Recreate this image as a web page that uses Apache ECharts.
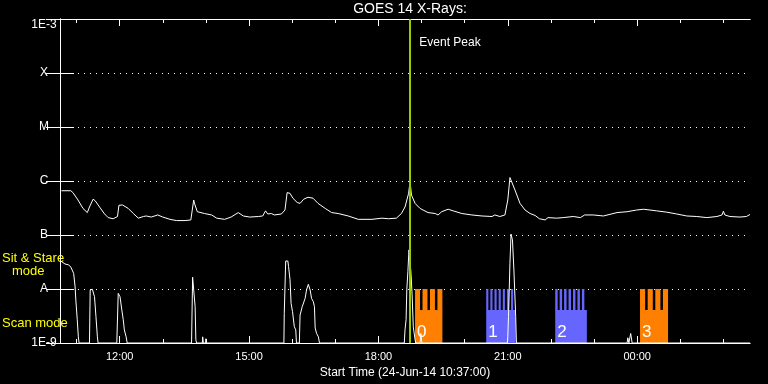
<!DOCTYPE html>
<html>
<head>
<meta charset="utf-8">
<script src="https://cdn.jsdelivr.net/npm/echarts@6/dist/echarts.min.js"></script>
<style>
  html, body { margin: 0; padding: 0; background: #000; }
  #main { width: 768px; height: 384px; }
</style>
</head>
<body>
<div id="main"></div>
<script>
// start of the plot, 24-Jun-14 10:37:00 ; times are minutes after it
var START_MIN = 10 * 60 + 37;
var SPAN_MIN = 960;

// x tick labels
var tickLabels = ['12:00', '15:00', '18:00', '21:00', '00:00'];
// y tick labels, 1E-9 .. 1E-3
var levelLabels = ['1E-9', 'A', 'B', 'C', 'M', 'X', '1E-3'];

// GOES 14 long channel (1-8 A), W/m^2
var longTime = [2, 15, 18, 25, 32, 38, 41, 46, 49, 55, 62, 67, 74, 80, 82, 87, 95, 102, 109, 116,
  120, 127, 136, 143, 153, 162, 174, 182, 184, 186, 187, 191, 201, 211, 218, 229, 238, 248, 255, 264,
  276, 282, 286, 289, 294, 298, 308, 313, 316, 320, 324, 330, 334, 339, 345, 352, 359, 369, 378, 387,
  401, 415, 434, 448, 457, 468, 475, 480, 485, 487, 489, 494, 501, 512, 522, 526, 531, 540, 547, 559,
  573, 587, 601, 605, 612, 619, 623, 626, 628, 633, 640, 647, 654, 661, 667, 675, 679, 691, 700, 714,
  724, 730, 742, 756, 775, 789, 802, 812, 830, 844, 858, 872, 886, 900, 914, 921, 923, 925, 932, 946,
  955, 960];
var longFlux = [6.6e-7, 6.6e-7, 6.1e-7, 4.45e-7, 3.1e-7, 2.6e-7, 3.3e-7, 4.6e-7, 4.3e-7, 3.3e-7, 2.45e-7, 2.1e-7, 2.0e-7, 2.2e-7, 3.55e-7, 3.6e-7, 3.1e-7, 2.5e-7, 2.05e-7, 2.2e-7,
  2.25e-7, 2.15e-7, 2.35e-7, 2.15e-7, 1.95e-7, 1.85e-7, 1.85e-7, 1.9e-7, 2.9e-7, 4.45e-7, 3.9e-7, 2.7e-7, 2.5e-7, 2.35e-7, 2.05e-7, 1.95e-7, 2.15e-7, 2.6e-7, 2.25e-7, 2.15e-7,
  2.2e-7, 2.25e-7, 2.8e-7, 2.45e-7, 2.5e-7, 2.35e-7, 2.45e-7, 2.9e-7, 6.1e-7, 5.9e-7, 4.8e-7, 4.0e-7, 3.85e-7, 4.6e-7, 5.0e-7, 4.8e-7, 3.85e-7, 3.1e-7, 2.6e-7, 2.5e-7,
  2.25e-7, 1.95e-7, 1.95e-7, 2.05e-7, 2.0e-7, 2.05e-7, 2.5e-7, 3.3e-7, 5.9e-7, 9.8e-7, 5.5e-7, 3.85e-7, 3.1e-7, 2.6e-7, 2.5e-7, 2.35e-7, 2.7e-7, 3.0e-7, 2.8e-7, 2.5e-7,
  2.35e-7, 2.25e-7, 2.2e-7, 2.35e-7, 2.2e-7, 2.35e-7, 4.45e-7, 1.16e-6, 1.12e-6, 6.8e-7, 3.85e-7, 2.9e-7, 2.5e-7, 2.3e-7, 2.0e-7, 1.9e-7, 2.1e-7, 2.05e-7, 2.1e-7, 2.2e-7,
  2.1e-7, 2.35e-7, 2.35e-7, 2.25e-7, 2.6e-7, 2.7e-7, 2.9e-7, 3.0e-7, 2.8e-7, 2.65e-7, 2.45e-7, 2.25e-7, 2.2e-7, 2.1e-7, 2.2e-7, 2.35e-7, 2.75e-7, 2.35e-7, 2.2e-7, 2.15e-7,
  2.2e-7, 2.4e-7];

// GOES 14 short channel (0.5-4 A), W/m^2 ; 1e-9 = floor of the plot
var shortTime = [1, 7, 12, 15, 19, 21, 22, 24, 25.5, 26.5,
  41, 42, 45, 48, 50, 52, 53,
  79, 81, 83.5, 86, 88, 89.5, 92, 93.5,
  183, 184.5, 186.5, 188, 189, 190,
  198, 198.5, 199.5, 202.5, 203, 204,
  311.5, 312, 314, 317, 318, 320, 321.5, 323.5, 326, 328, 329,
  333, 334, 337, 341, 343, 345.5, 348, 350, 352.5, 354, 355, 357, 359.5, 361,
  479, 480, 481.5, 482.5, 484, 485.5, 487, 488.5, 490, 491.5, 494, 495,
  501, 502, 503.5,
  622.5, 623, 624, 625, 626, 627.5, 629.5, 631.5, 634, 635,
  789, 790, 791.5, 794, 796,
  960];
var shortFlux = [3.3e-8, 2.9e-8, 2.8e-8, 2.55e-8, 1.95e-8, 1.1e-8, 6.3e-9, 2.7e-9, 1.3e-9, 1e-9,
  1e-9, 9.6e-9, 9.9e-9, 7.2e-9, 3.1e-9, 1.3e-9, 1e-9,
  1e-9, 8.3e-9, 7.2e-9, 4.1e-9, 2.7e-9, 1.75e-9, 1.3e-9, 1e-9,
  1e-9, 1.65e-8, 1.6e-8, 4.7e-9, 1.15e-9, 1e-9,
  1e-9, 1.3e-9, 1e-9, 1e-9, 1.2e-9, 1e-9,
  1e-9, 3.5e-9, 3.3e-8, 3.3e-8, 2.6e-8, 1.5e-8, 5.4e-9, 3.8e-9, 2.0e-9, 1.75e-9, 1e-9,
  1e-9, 3.3e-9, 4.7e-9, 6.7e-9, 9.6e-9, 1.22e-8, 9.6e-9, 6.7e-9, 5.8e-9, 4.7e-9, 1.9e-9, 1.5e-9, 1.3e-9, 1e-9,
  1e-9, 1.75e-9, 2.7e-9, 9.6e-9, 2.1e-8, 5.3e-8, 3.3e-8, 1.8e-8, 7.1e-9, 2.0e-9, 1.15e-9, 1e-9,
  1e-9, 1.5e-9, 1e-9,
  1e-9, 1.3e-9, 3.1e-9, 9.6e-9, 3.0e-8, 1.04e-7, 8.1e-8, 2.25e-8, 3.1e-9, 1e-9,
  1e-9, 1.25e-9, 1e-9, 1.5e-9, 1e-9,
  1e-9];

// event peak, minutes after start (18:43)
var eventPeak = 486;

// IRIS observations 0..3
var obsStart = [494, 593, 689, 807];
var obsEnd = [532, 634, 733, 846];
var obsSteps = [4, 7, 7, 4];
var obsMode = [0, 1, 1, 0];   // 0 sit & stare, 1 scan

var modeColors = ['#ff8000', '#6666ff'];
var FONT = 'Liberation Sans';

function toMinutes(hhmm) {
  var p = hhmm.split(':');
  var m = Number(p[0]) * 60 + Number(p[1]) - START_MIN;
  if (m < 0) m += 1440;
  return m;
}

var majorTicks = tickLabels.map(toMinutes);
var hourTicks = [];
for (var h = 11; h <= 26; h++) {
  var m = h * 60 - START_MIN;
  if (m > 0 && m < SPAN_MIN) hourTicks.push(m);
}

function pairs(ts, vs) {
  var out = [];
  for (var i = 0; i < ts.length; i++) {
    out.push([ts[i], Math.log10(vs[i])]);
  }
  return out;
}

var obsData = [];
for (var i = 0; i < obsStart.length; i++) {
  obsData.push([obsStart[i], obsEnd[i], obsSteps[i], obsMode[i], i]);
}

// body of the block ends here, the comb goes up to level A
var BODY_TOP = -8.39;

function renderObs(params, api) {
  var s = api.value(0), e = api.value(1), n = api.value(2);
  var mode = api.value(3);
  var color = modeColors[mode];
  var bl = api.coord([s, -9]);
  var tr = api.coord([e, BODY_TOP]);
  var top = api.coord([s, -8]);
  var w = tr[0] - bl[0];
  var gap = mode === 0 ? 2.5 : 2;
  // scan combs stop a little short of the right edge
  var combW = mode === 0 ? w : w - 2.5;
  var pitch = (combW + gap) / n;
  var children = [{
    type: 'rect',
    shape: { x: bl[0], y: tr[1], width: w, height: bl[1] - tr[1] },
    style: { fill: color }
  }];
  for (var k = 0; k < n; k++) {
    children.push({
      type: 'rect',
      shape: { x: bl[0] + k * pitch, y: top[1], width: pitch - gap, height: tr[1] - top[1] + 0.5 },
      style: { fill: color }
    });
  }
  children.push({
    type: 'text',
    style: {
      text: String(api.value(4)), x: bl[0] + 2, y: bl[1] - 2,
      fill: '#fff', font: '17px ' + FONT, verticalAlign: 'bottom'
    }
  });
  return { type: 'group', children: children };
}

var white = { color: '#fff', width: 1 };

function xAxisOf(pos, ticks, len, labels) {
  return {
    type: 'value', position: pos, min: 0, max: SPAN_MIN,
    axisLine: { show: true, lineStyle: white },
    axisTick: { show: true, inside: true, length: len, customValues: ticks, lineStyle: white },
    axisLabel: labels ? {
      show: true, customValues: majorTicks, color: '#fff', fontFamily: FONT, fontSize: 11, margin: 8,
      formatter: function (v) { return tickLabels[majorTicks.indexOf(v)] || ''; }
    } : { show: false },
    splitLine: { show: false }
  };
}

var chart = echarts.init(document.getElementById('main'), null, { renderer: 'canvas' });

var xBottom = xAxisOf('bottom', majorTicks, 7, true);
xBottom.name = 'Start Time (24-Jun-14 10:37:00)';
xBottom.nameLocation = 'middle';
xBottom.nameGap = 21;
xBottom.nameTextStyle = { color: '#fff', fontFamily: FONT, fontSize: 12 };

chart.setOption({
  backgroundColor: '#000',
  animation: false,
  title: {
    text: 'GOES 14 X-Rays:', left: 405, top: -3, textAlign: 'center',
    textStyle: { color: '#fff', fontFamily: FONT, fontSize: 14, fontWeight: 'normal' }
  },
  grid: { left: 60, top: 19, right: 18, bottom: 41 },
  xAxis: [
    xBottom,
    xAxisOf('bottom', hourTicks, 4, false),
    xAxisOf('top', majorTicks, 7, false),
    xAxisOf('top', hourTicks, 4, false)
  ],
  yAxis: [{
    type: 'value', position: 'left', min: -9, max: -3, interval: 1,
    axisLine: { show: true, lineStyle: white },
    axisTick: { show: true, inside: true, length: 14, lineStyle: white },
    axisLabel: {
      color: '#fff', fontFamily: FONT, fontSize: 12, margin: 16, align: 'center',
      verticalAlignMaxLabel: 'top',
      formatter: function (v) { return levelLabels[v + 9]; }
    },
    splitLine: { show: true, lineStyle: { color: '#fff', width: 1, type: [1, 5] } }
  }, {
    type: 'value', position: 'right', min: -9, max: -3, interval: 1,
    axisLine: { show: true, lineStyle: white },
    axisTick: { show: true, inside: true, length: 14, lineStyle: white },
    axisLabel: { show: false },
    splitLine: { show: false }
  }],
  graphic: [
    { type: 'text', left: 2, top: 252, style: { text: 'Sit & Stare', fill: '#ffff00', font: '13px ' + FONT } },
    { type: 'text', left: 12, top: 265, style: { text: 'mode', fill: '#ffff00', font: '13px ' + FONT } },
    { type: 'text', left: 2, top: 317, style: { text: 'Scan mode', fill: '#ffff00', font: '13px ' + FONT } }
  ],
  series: [{
    type: 'custom',
    name: 'IRIS',
    renderItem: renderObs,
    encode: { x: [0, 1] },
    data: obsData,
    z: 1
  }, {
    type: 'line',
    name: 'short',
    data: pairs(shortTime, shortFlux),
    showSymbol: false,
    lineStyle: { color: '#fff', width: 1 },
    z: 3
  }, {
    type: 'line',
    name: 'long',
    data: pairs(longTime, longFlux),
    showSymbol: false,
    lineStyle: { color: '#fff', width: 1 },
    z: 3,
    markLine: {
      silent: true, symbol: ['none', 'none'],
      lineStyle: { color: '#99cc00', width: 2, type: 'solid' },
      label: { show: false },
      data: [{ xAxis: eventPeak }],
      z: 4
    },
    markPoint: {
      silent: true,
      data: [{
        coord: [eventPeak, -3.44], symbol: 'circle', symbolSize: 0,
        label: { show: true, position: 'right', distance: 10, formatter: 'Event Peak', color: '#fff', fontFamily: FONT, fontSize: 12 }
      }]
    }
  }]
});
</script>
</body>
</html>
